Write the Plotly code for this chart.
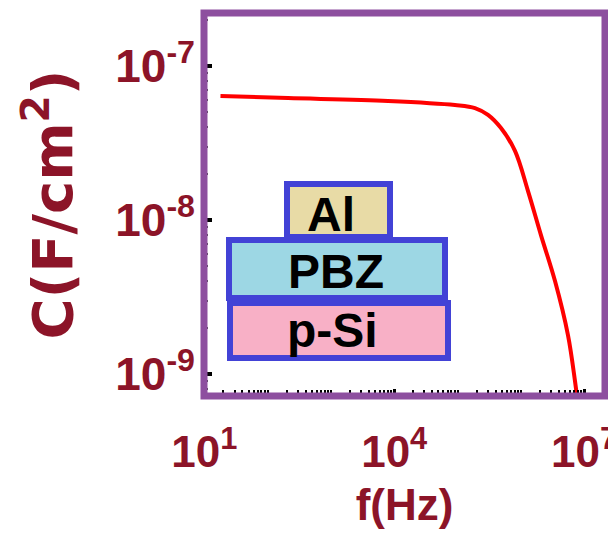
import plotly.graph_objects as go

# ---- data ----
freq_hz = [18, 210, 7.98e3, 9.12e4, 1.89e5, 3.03e5, 4.86e5, 8.09e5,
           1.30e6, 2.08e6, 3.47e6, 5.56e6, 7.18e6, 8.00e6]
cap_f_cm2 = [6.38e-8, 6.19e-8, 5.93e-8, 5.58e-8, 5.33e-8, 4.81e-8, 3.95e-8, 2.81e-8,
             1.54e-8, 7.98e-9, 4.01e-9, 1.79e-9, 8.99e-10, 6.3e-10]

x_tickvals = [1e1, 1e4, 1e7]
x_ticktext = ["10<sup>1</sup>", "10<sup>4</sup>", "10<sup>7</sup>"]
y_tickvals = [1e-9, 1e-8, 1e-7]
y_ticktext = ["10<sup>-9</sup>", "10<sup>-8</sup>", "10<sup>-7</sup>"]

stack_layers = ["Al", "PBZ", "p-Si"]

# ---- style ----
W, H = 616, 542
ML, MR, MT, MB = 196, 19, 5, 154
PW, PH = W - ML - MR, H - MT - MB
TXT = "#8c1428"
FRAME = "#8d4f9f"
FONT = "Liberation Sans"


def px(xp):
    return (xp - ML) / PW


def py(yp):
    return (H - MB - yp) / PH


fig = go.Figure()
fig.add_trace(go.Scatter(
    x=freq_hz, y=cap_f_cm2, mode="lines",
    line=dict(color="#ff0000", width=4, shape="spline", smoothing=1.0),
    cliponaxis=True, showlegend=False,
))

fig.update_xaxes(
    type="log", range=[0.995, 7.33], automargin=False,
    tickmode="array", tickvals=x_tickvals, ticktext=x_ticktext,
    tickfont=dict(family=FONT, size=44, color=TXT, weight="bold"),
    ticks="inside", ticklen=7, tickwidth=3, tickcolor="black",
    ticklabelstandoff=26,
    minor=dict(ticks="inside", ticklen=6, tickwidth=2, tickcolor="black", dtick="D1"),
    showgrid=False, zeroline=False, showline=False,
    title=dict(text="f(Hz)", font=dict(family=FONT, size=44, color=TXT, weight="bold"), standoff=14),
)
fig.update_yaxes(
    type="log", range=[-9.143, -6.656], automargin=False,
    tickmode="array", tickvals=y_tickvals, ticktext=y_ticktext,
    tickfont=dict(family=FONT, size=46, color=TXT, weight="bold"),
    ticks="inside", ticklen=8, tickwidth=4, tickcolor="black",
    ticklabelstandoff=8,
    minor=dict(ticks="inside", ticklen=4, tickwidth=2, tickcolor="#444", dtick="D1"),
    showgrid=False, zeroline=False, showline=False,
    title=dict(text="C(F/cm<sup>2</sup>)",
               font=dict(family="DejaVu Sans", size=56, color=TXT, weight="bold"), standoff=24),
)

shapes = [
    dict(type="rect", xref="paper", yref="paper", x0=0, x1=1, y0=0, y1=1,
         line=dict(color=FRAME, width=7), layer="above"),
]
# device stack inset (pixel geometry -> paper)
boxes = [
    (279, 382, 176, 229, "#e8dba6"),
    (221, 437, 232, 290, "#9dd7e4"),
    (222, 440, 295, 350, "#f8b0c6"),
]
for x0, x1, y0, y1, fc in boxes:
    shapes.append(dict(type="rect", xref="paper", yref="paper",
                       x0=px(x0), x1=px(x1), y0=py(y1), y1=py(y0),
                       fillcolor=fc, line=dict(color="#4242d6", width=6), layer="above"))

annotations = []
label_pos = [(323, 206), (328, 263), (324, 322)]
for name, (ax, ay) in zip(stack_layers, label_pos):
    annotations.append(dict(text=name, xref="paper", yref="paper", x=px(ax), y=py(ay),
                            xanchor="center", yanchor="middle", showarrow=False,
                            font=dict(family=FONT, size=48, color="black", weight="bold")))

fig.update_layout(
    width=W, height=H, autosize=False,
    margin=dict(l=ML, r=MR, t=MT, b=MB, pad=0),
    paper_bgcolor="white", plot_bgcolor="white",
    shapes=shapes, annotations=annotations,
)

fig.write_html("out.html")
